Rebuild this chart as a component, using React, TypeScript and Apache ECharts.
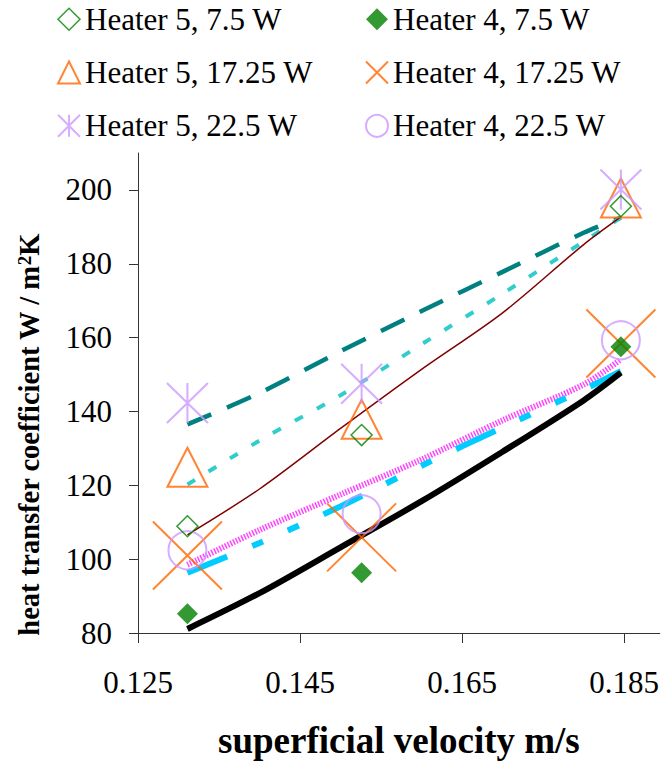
import React, { useEffect, useRef } from "react";
import * as echarts from "echarts";

// measured points (superficial velocity m/s vs heat transfer coefficient)
const velocity = [0.1311, 0.1526, 0.1846];
const heater5_7_5 = [108.9, 133.6, 195.6];
const heater4_7_5 = [85.2, 96.3, 157.5];
const heater5_17_25 = [124.9, 137.9, 197.8];
const heater4_17_25 = [101.0, 105.9, 158.4];
const heater5_22_5 = [142.3, 147.5, 200.1];
const heater4_22_5 = [102.4, 112.2, 159.3];

// trend lines
const trendX = [0.1311, 0.14, 0.15, 0.16, 0.17, 0.18, 0.1846];
const trend5_7_5 = [106.6, 119.0, 135.4, 151.4, 166.7, 185.2, 192.7];
const trend5_17_25 = [120.2, 132.1, 144.4, 158.2, 171.9, 186.0, 192.5];
const trend5_22_5 = [136.5, 145.0, 156.3, 167.2, 177.8, 188.4, 192.5];
const trend4_7_5 = [81.1, 90.8, 103.2, 115.7, 129.1, 143.0, 150.5];
const trend4_17_25 = [96.3, 104.4, 114.3, 125.3, 135.7, 145.9, 150.9];
const trend4_22_5 = [98.5, 107.9, 117.5, 127.0, 137.6, 147.3, 154.1];

const xTicks = [0.125, 0.145, 0.165, 0.185];
const yTicks = [80, 100, 120, 140, 160, 180, 200];

const names = [
  "Heater 5, 7.5 W",
  "Heater 4, 7.5 W",
  "Heater 5, 17.25 W",
  "Heater 4, 17.25 W",
  "Heater 5, 22.5 W",
  "Heater 4, 22.5 W",
];

const FONT = "Liberation Serif";
const GREEN = "#008000";
const ORANGE = "#FF6600";
const LAV = "#CC99FF";
const CLEAR = "rgba(0,0,0,0)";
const X_PATH = "path://M0,0L10,10M10,0L0,10";
const STAR_PATH = "path://M0,0L10,10M10,0L0,10M5,0L5,10";

const pts = (xs: number[], ys: number[]) => xs.map((x, i) => [x, ys[i]]);

export default function App() {
  const ref = useRef<HTMLDivElement>(null);
  useEffect(() => {
    if (!ref.current) return;
    const chart = echarts.init(ref.current, undefined, { renderer: "svg" });

    const trend = (ys: number[], color: string, width: number, type: any) => ({
      type: "line",
      data: pts(trendX, ys),
      showSymbol: false,
      symbol: "none",
      smooth: 0.3,
      lineStyle: { color, width, type, cap: "butt" },
      z: 2,
      silent: true,
    });

    const legendBase = {
      orient: "vertical",
      top: 3.7,
      padding: 0,
      itemWidth: 22,
      itemHeight: 22,
      itemGap: 22.3,
      selectedMode: false,
      textStyle: { fontFamily: FONT, fontSize: 31, color: "#000", lineHeight: 31 },
    };

    const option: any = {
      animation: false,
      backgroundColor: "#fff",
      grid: { left: 138, top: 153, width: 523, height: 480, containLabel: false },
      legend: [
        {
          ...legendBase,
          left: 57,
          data: [
            { name: names[0], icon: "diamond", itemStyle: { color: CLEAR, borderColor: GREEN, borderWidth: 1.5 } },
            { name: names[2], icon: "triangle", itemStyle: { color: CLEAR, borderColor: ORANGE, borderWidth: 2 } },
            { name: names[4], icon: STAR_PATH, itemStyle: { color: CLEAR, borderColor: LAV, borderWidth: 2 } },
          ],
        },
        {
          ...legendBase,
          left: 365,
          data: [
            { name: names[1], icon: "diamond", itemStyle: { color: GREEN, borderColor: GREEN, borderWidth: 0 } },
            { name: names[3], icon: X_PATH, itemStyle: { color: CLEAR, borderColor: ORANGE, borderWidth: 2 } },
            { name: names[5], icon: "circle", itemStyle: { color: CLEAR, borderColor: LAV, borderWidth: 2 } },
          ],
        },
      ],
      xAxis: {
        type: "value",
        min: 0.125,
        max: 0.1894,
        name: "superficial velocity m/s",
        nameLocation: "middle",
        nameGap: 89,
        nameTextStyle: { fontFamily: FONT, fontWeight: "bold", fontSize: 37, color: "#000", lineHeight: 37 },
        axisLine: { show: true, lineStyle: { color: "#333", width: 1 } },
        axisTick: { show: true, length: 10, customValues: xTicks, lineStyle: { color: "#333", width: 1 } },
        axisLabel: {
          customValues: xTicks,
          margin: 34,
          fontFamily: FONT,
          fontSize: 31,
          color: "#000",
          formatter: (v: number) => v.toFixed(3),
        },
        splitLine: { show: false },
      },
      yAxis: {
        type: "value",
        min: 80,
        max: 210,
        name: "{a|heat transfer coefficient W / m}{s|2}{a|K}",
        nameLocation: "middle",
        nameRotate: 90,
        nameGap: 94,
        nameTextStyle: {
          fontFamily: FONT,
          fontWeight: "bold",
          fontSize: 28.5,
          color: "#000",
          padding: [0, 84, 0, 0],
          rich: {
            a: { fontFamily: FONT, fontWeight: "bold", fontSize: 28.5, lineHeight: 29, color: "#000", verticalAlign: "bottom" },
            s: { fontFamily: FONT, fontWeight: "bold", fontSize: 19, lineHeight: 19, color: "#000", verticalAlign: "top", padding: [0, 0, 16, 0] },
          },
        },
        axisLine: { show: true, lineStyle: { color: "#333", width: 1 } },
        axisTick: { show: true, length: 9, customValues: yTicks, lineStyle: { color: "#333", width: 1 } },
        axisLabel: { customValues: yTicks, margin: 26, fontFamily: FONT, fontSize: 31, color: "#000" },
        splitLine: { show: false },
      },
      series: [
        trend(trend5_22_5, "#008080", 4.5, [26, 17]),
        trend(trend5_17_25, "#33CCCC", 4, [9, 16]),
        trend(trend5_7_5, "#800000", 1.5, "solid"),
        trend(trend4_22_5, "#ff44ff", 6, [1.5, 1.5]),
        trend(trend4_17_25, "#00CCFF", 6, [43, 27, 12, 27, 12, 27]),
        trend(trend4_7_5, "#000000", 6, "solid"),
        {
          type: "scatter", name: names[0], data: pts(velocity, heater5_7_5), symbol: "diamond", symbolSize: 21,
          itemStyle: { color: CLEAR, borderColor: GREEN, borderWidth: 1.5 }, z: 4,
        },
        {
          type: "scatter", name: names[1], data: pts(velocity, heater4_7_5), symbol: "diamond", symbolSize: 21,
          itemStyle: { color: GREEN, borderColor: GREEN, borderWidth: 0 }, z: 4,
        },
        {
          type: "scatter", name: names[2], data: pts(velocity, heater5_17_25), symbol: "triangle", symbolSize: [40, 39],
          itemStyle: { color: CLEAR, borderColor: ORANGE, borderWidth: 2 }, z: 3,
        },
        {
          type: "scatter", name: names[3], data: pts(velocity, heater4_17_25), symbol: X_PATH, symbolSize: [69, 68],
          itemStyle: { color: CLEAR, borderColor: ORANGE, borderWidth: 2 }, z: 3,
        },
        {
          type: "scatter", name: names[4], data: pts(velocity, heater5_22_5), symbol: STAR_PATH, symbolSize: [41, 40],
          itemStyle: { color: CLEAR, borderColor: LAV, borderWidth: 2 }, z: 3,
        },
        {
          type: "scatter", name: names[5], data: pts(velocity, heater4_22_5), symbol: "circle", symbolSize: 38,
          itemStyle: { color: CLEAR, borderColor: LAV, borderWidth: 2 }, z: 3,
        },
      ],
    };
    chart.setOption(option);
    return () => chart.dispose();
  }, []);

  return (
    <div
      ref={ref}
      style={{ position: "fixed", left: 0, top: 0, width: 662, height: 768, background: "#fff" }}
    />
  );
}
